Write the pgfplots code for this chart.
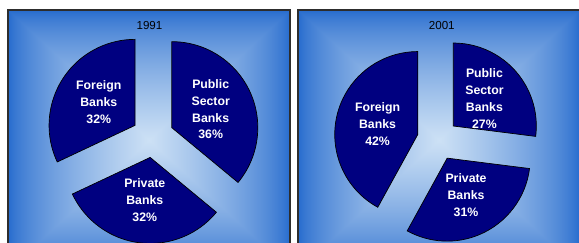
\documentclass[border=0pt]{standalone}
\usepackage{pgfplots}
\pgfplotsset{compat=1.18}
\usepackage{pgfplotstable}
\usepackage{fontspec}
\setmainfont{Liberation Sans}
\definecolor{pienavy}{RGB}{0,0,128}
\definecolor{frame}{RGB}{45,45,45}
\pgfdeclarefunctionalshading{panelgrad}{\pgfpoint{0bp}{0bp}}{\pgfpoint{282bp}{260bp}}{}{
 130 sub abs 130 div exch 141 sub abs 141 div
 2 copy lt {exch} if pop
 1 exch sub 0.7 exp
 dup 0.667 mul 0.137 add exch
 dup 0.470 mul 0.412 add exch
 0.157 mul 0.804 add
}

\pgfplotstableread{
bank pct
Public 36
Private 32
Foreign 32
}\tabA
\pgfplotstableread{
bank pct
Public 27
Private 31
Foreign 42
}\tabB
\pgfplotstablegetelem{0}{pct}\of\tabA \edef\Apub{\pgfplotsretval}%
\pgfplotstablegetelem{1}{pct}\of\tabA \edef\Apri{\pgfplotsretval}%
\pgfplotstablegetelem{2}{pct}\of\tabA \edef\Afor{\pgfplotsretval}%
\pgfplotstablegetelem{0}{pct}\of\tabB \edef\Bpub{\pgfplotsretval}%
\pgfplotstablegetelem{1}{pct}\of\tabB \edef\Bpri{\pgfplotsretval}%
\pgfplotstablegetelem{2}{pct}\of\tabB \edef\Bfor{\pgfplotsretval}%

% #1 start angle (deg, clockwise from top), #2 end angle, #3 radius, #4 explode, #5 label
\newcommand\pieslice[5]{%
  \filldraw[fill=pienavy, draw=black, line width=0.7bp]
    (axis cs:{(#4)*sin(((#1)+(#2))/2)},{(#4)*cos(((#1)+(#2))/2)})
    -- ++({90-(#1)}:#3bp)
    arc[start angle={90-(#1)}, end angle={90-(#2)}, radius=#3bp] -- cycle;
  \node[text=white, align=center, font=\fontsize{12.3bp}{16.7bp}\selectfont\bfseries]
    at (axis cs:{((#4)+0.5*(#3))*sin(((#1)+(#2))/2)},{((#4)+0.5*(#3))*cos(((#1)+(#2))/2)}) {#5};
}

\pgfplotsset{panel/.style={
  x=1bp, y=1bp, axis lines=box, xtick=\empty, ytick=\empty,
  enlargelimits=false,
  axis line style={draw=frame, line width=1.6bp},
  anchor=south west,
}}

\begin{document}%
\begin{tikzpicture}
\path[use as bounding box] (0bp,0bp) rectangle (579bp,243bp);
\clip (0bp,0bp) rectangle (579bp,243bp);
\fill[white] (0bp,0bp) rectangle (579bp,243bp);
\node[inner sep=0pt, outer sep=0pt, anchor=south west] at (8bp,-27bp) {\pgfuseshading{panelgrad}};
\node[inner sep=0pt, outer sep=0pt, anchor=south west] at (298bp,-27bp) {\pgfuseshading{panelgrad}};
\begin{axis}[panel, at={(8bp,-27bp)}, xmin=-144.8, xmax=137.2, ymin=-133.4, ymax=126.6]
\node[font=\fontsize{11.6bp}{13bp}\selectfont, text=black, inner sep=0pt] at (axis cs:-3.3,110.9) {1991};
\pieslice{0}{3.6*\Apub}{86}{21}{Public\\Sector\\Banks\\\Apub\%}
\pieslice{3.6*\Apub}{3.6*(\Apub+\Apri)}{86}{21}{Private\\Banks\\\Apri\%}
\pieslice{3.6*(\Apub+\Apri)}{3.6*(\Apub+\Apri+\Afor)}{86}{21}{Foreign\\Banks\\\Afor\%}
\end{axis}
\begin{axis}[panel, at={(298bp,-27bp)}, xmin=-139.8, xmax=142.2, ymin=-130.3, ymax=129.7]
\node[font=\fontsize{11.6bp}{13bp}\selectfont, text=black, inner sep=0pt] at (axis cs:4,113.7) {2001};
\pieslice{0}{3.6*\Bpub}{83}{20.7}{Public\\Sector\\Banks\\\Bpub\%}
\pieslice{3.6*\Bpub}{3.6*(\Bpub+\Bpri)}{83}{20.7}{Private\\Banks\\\Bpri\%}
\pieslice{3.6*(\Bpub+\Bpri)}{3.6*(\Bpub+\Bpri+\Bfor)}{83}{20.7}{Foreign\\Banks\\\Bfor\%}
\end{axis}
\end{tikzpicture}%
\end{document}
